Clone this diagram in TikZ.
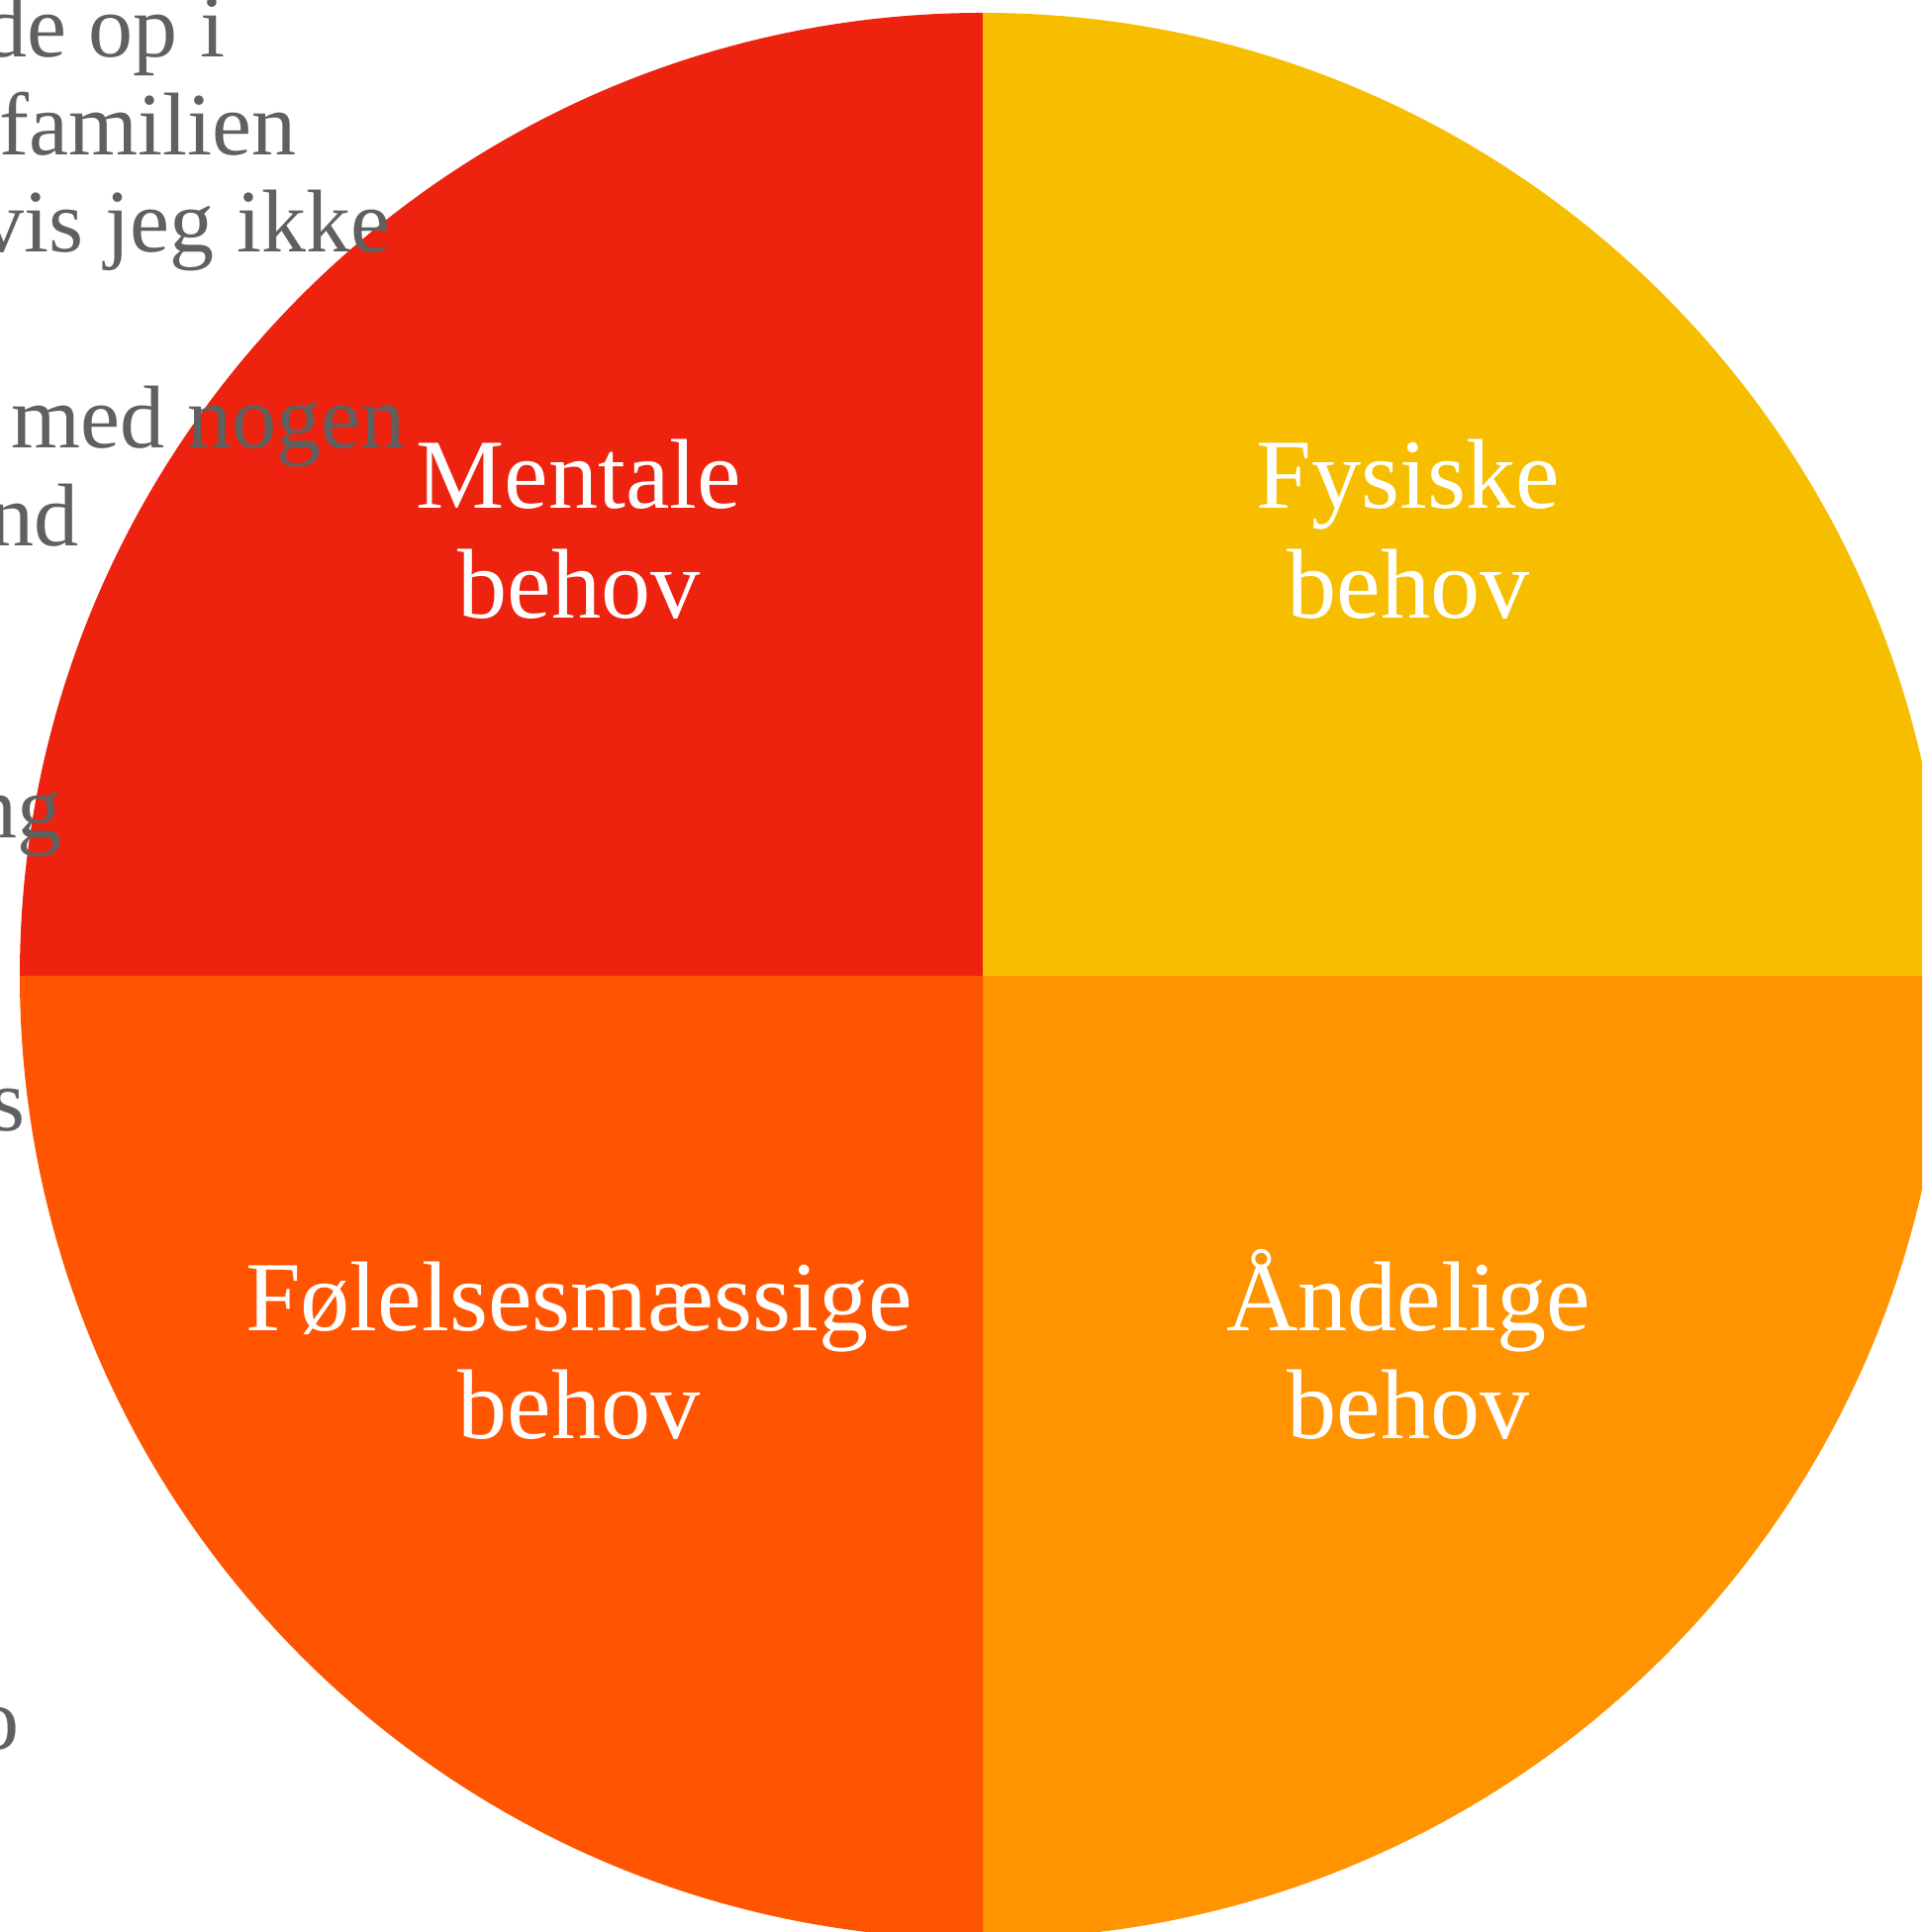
\documentclass[tikz,border=0pt]{standalone}
\usepackage{fontspec}
\setmainfont{Liberation Serif}
\definecolor{mentalred}{HTML}{ED2310}
\definecolor{fysiskyellow}{HTML}{F7BE00}
\definecolor{aandorange}{HTML}{FF9300}
\definecolor{foelorange}{HTML}{FF5500}
\definecolor{txtgray}{HTML}{606060}
\begin{document}
\begin{tikzpicture}[x=0.01cm, y=0.01cm,
    lbl/.style={anchor=base, inner sep=0pt, text=white, font=\fontsize{28.5}{32}\selectfont},
    side/.style={anchor=base east, inner sep=0pt, text=txtgray, font=\fontsize{25.6}{29}\selectfont}]
  \clip (0,0) rectangle (1942,1952);
  \coordinate (c) at (993,966);
  \fill[mentalred] (c) -- ++(180:973) arc[start angle=180, end angle=90, radius=973] -- cycle;
  \fill[fysiskyellow] (c) -- ++(90:973) arc[start angle=90, end angle=0, radius=973] -- cycle;
  \fill[aandorange] (c) -- ++(0:973) arc[start angle=0, end angle=-90, radius=973] -- cycle;
  \fill[foelorange] (c) -- ++(-90:973) arc[start angle=-90, end angle=-180, radius=973] -- cycle;
  \node[lbl] (ment1) at (585,1438) {Mentale};
  \node[lbl] (ment2) at (585,1327) {behov};
  \node[lbl] (fys1) at (1423,1438) {Fysiske};
  \node[lbl] (fys2) at (1423,1327) {behov};
  \node[lbl] (foel1) at (585,607) {Følelsesmæssige};
  \node[lbl] (foel2) at (585,498) {behov};
  \node[lbl] (aand1) at (1423,607) {Åndelige};
  \node[lbl] (aand2) at (1423,498) {behov};
  \node[side] (txt1) at (228,1894) {de op i};
  \node[side] (txt2) at (300,1795) {familien};
  \node[side] (txt3) at (395,1697) {vis jeg ikke};
  \node[side] (txt4) at (410,1499) {med nogen};
  \node[side] (txt5) at (80,1400) {nd};
  \node[side] (txt6) at (63,1105) {ng};
  \node[side] (txt7) at (26,809) {s};
  \node[side] (txt8) at (20,184) {o};
\end{tikzpicture}
\end{document}
